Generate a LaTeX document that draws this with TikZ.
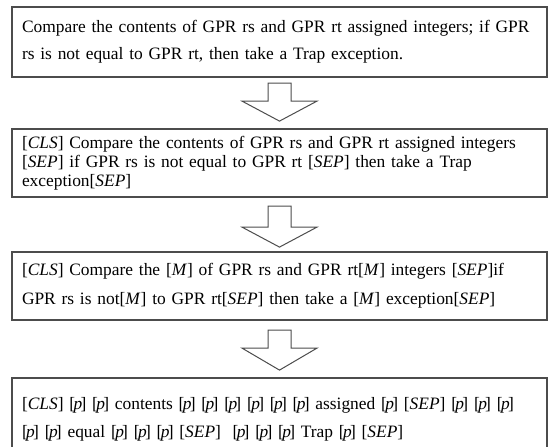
\documentclass[tikz,border=0pt]{standalone}
\usepackage{fontspec}
\setmainfont{Liberation Serif}
\usetikzlibrary{calc}
\newcommand{\tok}[1]{[\textit{#1}]}
\newcommand{\ptok}{[\kern-.09em\textit{p}\kern-.1em]}

\begin{document}
\begin{tikzpicture}[x=0.5pt,y=-0.5pt]
\tikzset{
  textbox/.style={rectangle,draw=black!70,line width=1.1pt,fill=white,minimum width=267.5pt,inner xsep=5pt,inner ysep=0pt,text width=257.5pt,align=left},
  hollow/.style={draw=black!70,line width=0.5pt,fill=white,line join=miter}
}
\useasboundingbox (0,0) rectangle (557,446);
\node[textbox,minimum height=35pt,font=\fontsize{8.7}{13.5}\selectfont] (n_orig) at (279.5,42) {\mbox{Compare the contents of GPR rs and GPR rt assigned integers; if GPR}\\ \mbox{rs is not equal to GPR rt, then take a Trap exception.}};
\node[textbox,minimum height=34pt,font=\fontsize{8.7}{9.6}\selectfont] (n_tok) at (279.5,163) {\mbox{\tok{CLS} Compare the contents of GPR rs and GPR rt assigned integers}\\ \mbox{\tok{SEP} if GPR rs is not equal to GPR rt \tok{SEP} then take a Trap}\\ \mbox{exception\tok{SEP}}};
\node[textbox,minimum height=34pt,font=\fontsize{8.7}{14.5}\selectfont] (n_mask) at (279.5,286) {\makebox[257.5pt][s]{\tok{CLS} Compare the \tok{M} of GPR rs and GPR rt\tok{M} integers \tok{SEP}if}\\ \mbox{GPR rs is not\tok{M} to GPR rt\tok{SEP} then take a \tok{M} exception\tok{SEP}}};
\node[textbox,minimum height=41pt,font=\fontsize{8.7}{14}\selectfont] (n_pred) at (279.5,419) {\mbox{\tok{CLS} \ptok{} \ptok{} contents \ptok{} \ptok{} \ptok{} \ptok{} \ptok{} \ptok{} assigned \ptok{} \tok{SEP} \ptok{} \ptok{} \ptok}\\ \mbox{\ptok{} \ptok{} equal \ptok{} \ptok{} \ptok{} \tok{SEP}\ \ \ptok{} \ptok{} \ptok{} Trap \ptok{} \tok{SEP}}};
\draw[hollow] ($(n_orig.south)+(-11.5,5)$) -- ++(0,18) -- ++(-26,0) -- ++(37.5,20) -- ++(37.5,-20) -- ++(-26,0) -- ++(0,-18) -- cycle;
\draw[hollow] ($(n_tok.south)+(-11.5,8)$) -- ++(0,21) -- ++(-26,0) -- ++(37.5,20) -- ++(37.5,-20) -- ++(-26,0) -- ++(0,-21) -- cycle;
\draw[hollow] ($(n_mask.south)+(-11.5,9)$) -- ++(0,18) -- ++(-26,0) -- ++(37.5,22) -- ++(37.5,-22) -- ++(-26,0) -- ++(0,-18) -- cycle;
\end{tikzpicture}
\end{document}
